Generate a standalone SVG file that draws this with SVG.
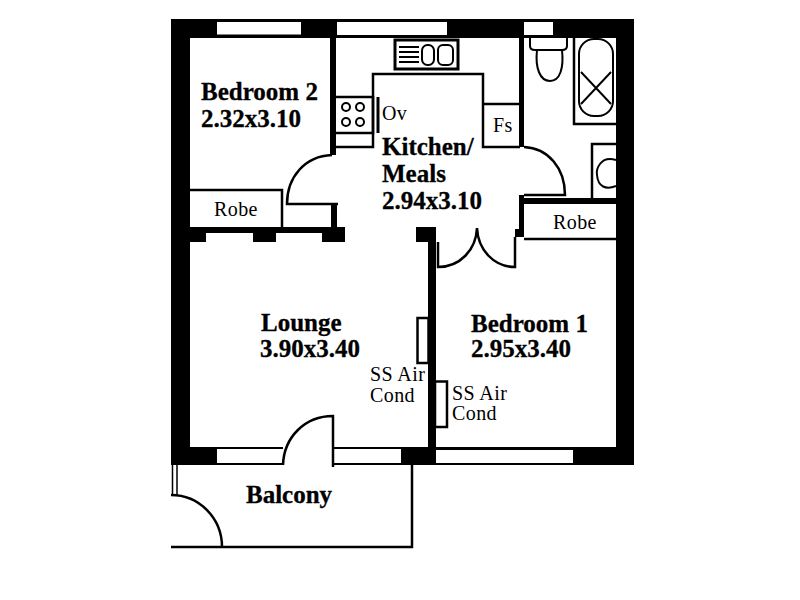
<svg xmlns="http://www.w3.org/2000/svg" width="800" height="600" viewBox="0 0 800 600">
<style>
.w{fill:#000}
.g{fill:#fff}
.l{fill:none;stroke:#000;stroke-width:2.5}
.t{fill:none;stroke:#000;stroke-width:2}
.b{font-family:"Liberation Serif","Times New Roman",serif;font-weight:bold;font-size:25px;fill:#000;stroke:#000;stroke-width:.3}
.r{font-family:"Liberation Serif","Times New Roman",serif;font-size:20px;letter-spacing:.4px;fill:#000}
</style>
<rect width="800" height="600" fill="#fff"/>
<g id="walls">
<rect class="w" x="171" y="19" width="463" height="19"/>
<rect class="w" x="171" y="19" width="19" height="446"/>
<rect class="w" x="616" y="19" width="18" height="446"/>
<rect class="w" x="171" y="447" width="463" height="18"/>
<rect class="w" x="330" y="38" width="6" height="117"/>
<rect class="w" x="519" y="38" width="5" height="109"/>
<rect class="w" x="519" y="198" width="97" height="6"/>
<rect class="w" x="519" y="195" width="5" height="42"/>
<rect class="w" x="515" y="229" width="9" height="8"/>
<rect class="w" x="331" y="205" width="6" height="24"/>
<rect class="w" x="190" y="227" width="155" height="15"/>
<rect class="w" x="416" y="227" width="20" height="15"/>
<rect class="w" x="428" y="240" width="8" height="208"/>
</g>
<g id="windows">
<rect class="g" x="217" y="22" width="84" height="12.500"/>
<rect class="g" x="337" y="22" width="110" height="13"/>
<rect class="g" x="524" y="22" width="29" height="13"/>
<rect class="g" x="206" y="233" width="47" height="9"/>
<rect class="g" x="276" y="233" width="46" height="9"/>
<rect class="g" x="217" y="449" width="66" height="14"/>
<rect class="g" x="283" y="447" width="51" height="18"/>
<rect class="g" x="334" y="449" width="67" height="14"/>
<rect class="g" x="436" y="450" width="137" height="13"/>
</g>
<g id="fittings">
<path class="l" d="M336 147H373V74H483V147H520M483 104H520"/>
<path class="l" d="M336 97H373V133H336"/>
<path d="M378 97V133" fill="none" stroke="#000" stroke-width="3"/>
<g class="t"><circle cx="346" cy="107" r="4"/><circle cx="360" cy="107" r="4"/><circle cx="346" cy="122" r="4"/><circle cx="360" cy="122" r="4"/></g>
<g id="sink">
<rect x="395" y="40" width="63" height="29" fill="none" stroke="#000" stroke-width="3"/>
<path d="M399 47H419M399 52H419M399 57H419M399 62H419" fill="none" stroke="#000" stroke-width="2"/>
<rect class="t" x="422" y="45" width="12" height="20" rx="5.500"/>
<rect class="t" x="438" y="45" width="15" height="20" rx="5"/>
</g>
<g id="toilet">
<path class="t" d="M530 38V46Q530 50 535 50H562Q567 50 567 46V38"/>
<path class="t" d="M537 50C535 68 540 81 550 81C560 81 564 68 562 50"/>
</g>
<g id="bath">
<path class="l" d="M574 38V124H616"/>
<rect class="t" x="579" y="39" width="34" height="77" rx="15"/>
<path class="t" d="M581 72L611 104M611 72L581 104"/>
</g>
<g id="basin">
<path class="l" d="M592 198V144H616"/>
<path class="t" d="M616 160C600 155 596 170 597 175C598 187 606 190 616 186"/>
</g>
<g id="robe-2"><path class="l" d="M190 190H282V227"/></g>
<g id="robe-1"><path class="l" d="M524 239H616"/></g>
<g id="aircon-lounge"><rect class="l" x="417.500" y="318" width="11" height="45"/></g>
<g id="aircon-bed"><rect class="l" x="435" y="381.500" width="12" height="45.500"/></g>
</g>
<g id="doors">
<path class="l" d="M332 155C305 156 287 177 287 204H338"/>
<path class="l" d="M524 147C548 148 565 168 565 195H524"/>
<path class="l" d="M438 242V267C460 267 476 250 477 228C478 250 494 267 515 267V237"/>
<path class="l" d="M283 465C284 437 305 416 333 416V467"/>
<path class="l" d="M171 495C199 495 222 518 222 547"/>
</g>
<g id="balcony">
<path class="l" d="M171 547H412V465"/>
<path d="M172.500 465V495M177 465V495" fill="none" stroke="#000" stroke-width="1.500"/>
</g>
<g id="labels">
<text class="b" x="201" y="100">Bedroom 2</text>
<text class="b" x="201" y="127">2.32x3.10</text>
<text class="b" x="382" y="155">Kitchen/</text>
<text class="b" x="382" y="182">Meals</text>
<text class="b" x="382" y="209">2.94x3.10</text>
<text class="b" x="261" y="331">Lounge</text>
<text class="b" x="260" y="357">3.90x3.40</text>
<text class="b" x="471" y="332">Bedroom 1</text>
<text class="b" x="471" y="357">2.95x3.40</text>
<text class="b" x="246" y="503">Balcony</text>
<text class="r" x="214" y="216">Robe</text>
<text class="r" x="553" y="229">Robe</text>
<text class="r" x="493" y="132">Fs</text>
<text class="r" x="382" y="120">Ov</text>
<text class="r" x="370" y="381">SS Air</text>
<text class="r" x="370" y="402">Cond</text>
<text class="r" x="452" y="400">SS Air</text>
<text class="r" x="452" y="420">Cond</text>
</g>
</svg>
